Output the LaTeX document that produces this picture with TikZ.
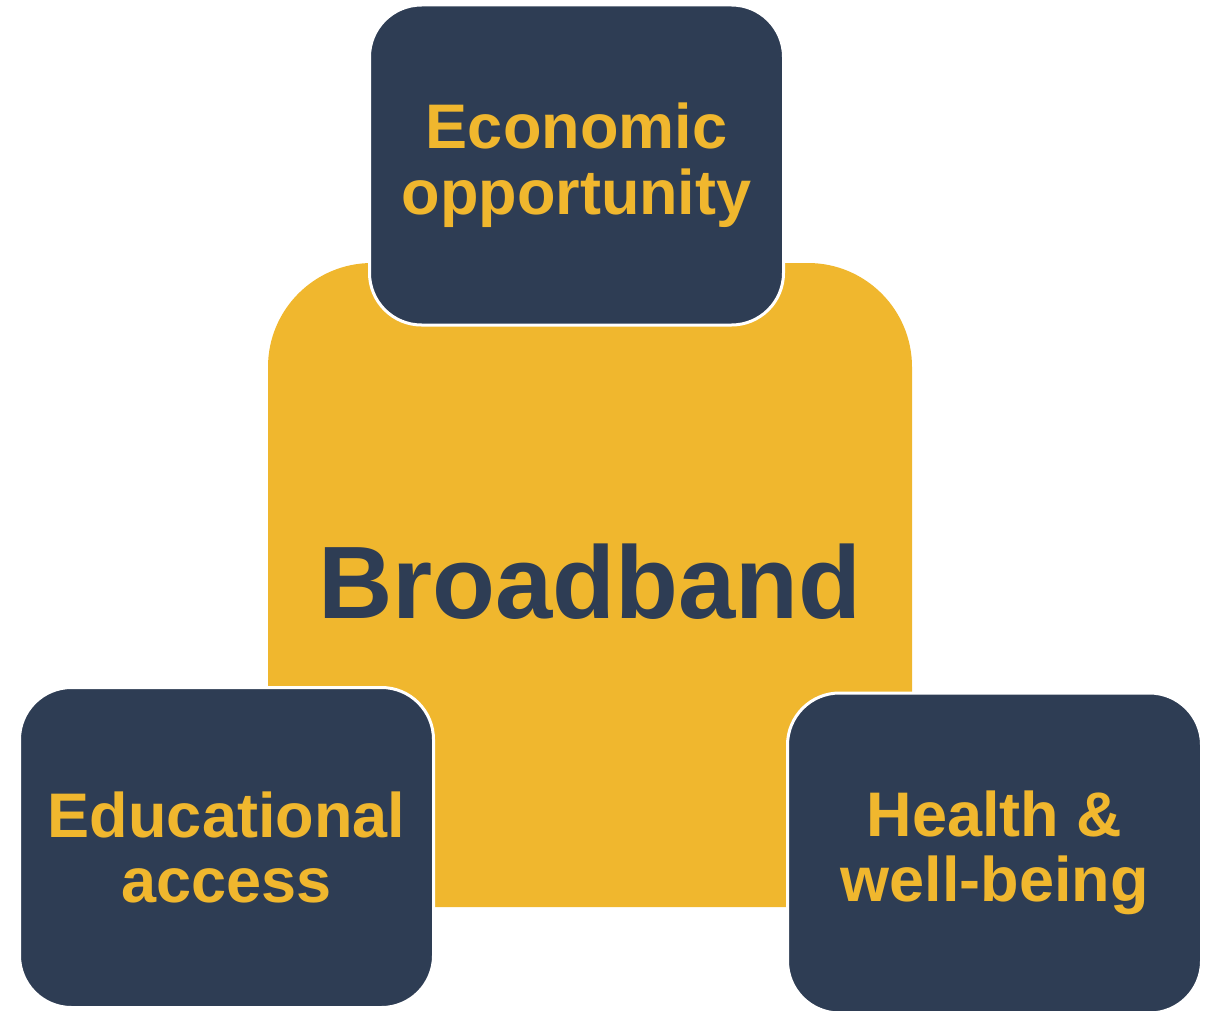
\documentclass[tikz,border=0pt]{standalone}
\usepackage{fontspec}
\setmainfont{Liberation Sans}
\usepackage{tikz}
\pgfdeclarelayer{baselayer}
\pgfdeclarelayer{nodelayer}
\pgfsetlayers{baselayer,nodelayer,main}
\definecolor{navy}{RGB}{46,61,84}
\definecolor{gold}{RGB}{240,183,46}
\tikzstyle{hub}=[rectangle,rounded corners=52pt,fill=gold,text=navy,minimum width=322pt,minimum height=322pt,inner sep=0pt,text depth=4pt,font=\bfseries\fontsize{51.5}{55}\selectfont]
\tikzstyle{pillar}=[rectangle,rounded corners=26pt,fill=navy,draw=white,line width=1.5pt,text=gold,minimum width=207pt,minimum height=160pt,inner sep=0pt,align=center,font=\bfseries\fontsize{31.5}{32.75}\selectfont]

\begin{document}
\begin{tikzpicture}[x=0.5pt,y=-0.5pt]
	\useasboundingbox (0,0) rectangle (1210,1011);
	\begin{pgfonlayer}{baselayer}
		\node [style=hub] (0) at (590, 585) {Broadband};
	\end{pgfonlayer}
	\begin{pgfonlayer}{nodelayer}
		\node [style=pillar] (1) at (576.5, 165) {Economic\\opportunity};
		\node [style=pillar] (2) at (226.5, 847.5) {Educational\\access};
		\node [style=pillar] (3) at (994.5, 853) {Health \&\\well-being};
	\end{pgfonlayer}
\end{tikzpicture}
\end{document}
